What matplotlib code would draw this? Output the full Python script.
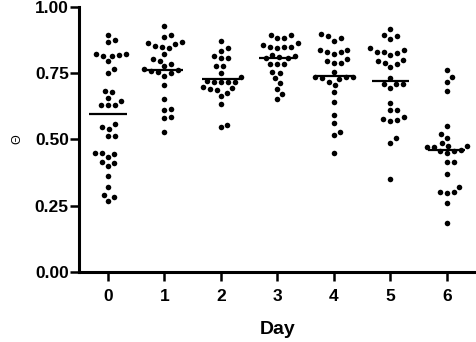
import numpy as np
import matplotlib
matplotlib.use("Agg")
import matplotlib.pyplot as plt

days = [0, 1, 2, 3, 4, 5, 6]

day0 = [0.894, 0.875, 0.867, 0.823, 0.815, 0.794, 0.815, 0.819, 0.823, 0.765, 0.750,
        0.677, 0.684, 0.643, 0.628, 0.628, 0.628, 0.655, 0.557, 0.545, 0.540, 0.514,
        0.514, 0.450, 0.435, 0.445, 0.450, 0.410, 0.400, 0.416, 0.360, 0.320, 0.291,
        0.269, 0.282]
day1 = [0.926, 0.894, 0.888, 0.869, 0.863, 0.860, 0.844, 0.853, 0.850, 0.823, 0.804,
        0.797, 0.784, 0.775, 0.765, 0.756, 0.752, 0.760, 0.758, 0.740, 0.706, 0.653,
        0.614, 0.609, 0.586, 0.580, 0.529]
day2 = [0.873, 0.844, 0.835, 0.813, 0.806, 0.806, 0.775, 0.775, 0.750, 0.735, 0.717,
        0.719, 0.717, 0.715, 0.717, 0.693, 0.687, 0.696, 0.674, 0.691, 0.664, 0.634,
        0.545, 0.555]
day3 = [0.894, 0.882, 0.882, 0.894, 0.862, 0.850, 0.850, 0.850, 0.845, 0.855, 0.820,
        0.815, 0.810, 0.806, 0.806, 0.784, 0.784, 0.784, 0.754, 0.750, 0.731, 0.712,
        0.689, 0.672, 0.653]
day4 = [0.891, 0.873, 0.882, 0.898, 0.838, 0.828, 0.822, 0.831, 0.838, 0.794, 0.788,
        0.790, 0.803, 0.756, 0.735, 0.728, 0.730, 0.735, 0.735, 0.706, 0.718, 0.680,
        0.640, 0.592, 0.561, 0.529, 0.517, 0.448]
day5 = [0.917, 0.894, 0.878, 0.891, 0.844, 0.831, 0.825, 0.819, 0.829, 0.838, 0.800,
        0.790, 0.772, 0.784, 0.796, 0.731, 0.709, 0.693, 0.708, 0.709, 0.637, 0.609,
        0.609, 0.577, 0.570, 0.574, 0.586, 0.505, 0.488, 0.350]
day6 = [0.762, 0.737, 0.718, 0.684, 0.552, 0.505, 0.521, 0.488, 0.470, 0.475, 0.470,
        0.474, 0.455, 0.449, 0.455, 0.458, 0.416, 0.416, 0.370, 0.303, 0.299, 0.303,
        0.320, 0.259, 0.186]
groups = [day0, day1, day2, day3, day4, day5, day6]
medians = [0.595, 0.762, 0.728, 0.808, 0.740, 0.720, 0.458]

yticks = [0.00, 0.25, 0.50, 0.75, 1.00]
ytick_labels = ["0.00", "0.25", "0.50", "0.75", "1.00"]

plt.rcParams['font.family'] = ['Liberation Sans', 'DejaVu Sans']

fig = plt.figure(figsize=(4.77, 3.42), dpi=100)
ax = fig.add_axes([0.166, 0.205, 0.830, 0.775])
ax.set_xlim(-0.51, 6.5)
ax.set_ylim(0, 1.0)

min_gap_px = 7.0


def swarm(x0, values):
    # simple beeswarm in pixel space
    pts = ax.transData.transform(np.column_stack([np.full(len(values), x0), values]))
    order = np.argsort(pts[:, 1])
    placed = []
    out = np.zeros_like(pts)
    for i in order:
        px, py = pts[i]
        step = 0.5
        for k in range(400):
            off = ((k + 1) // 2) * step * (1 if k % 2 else -1)
            ok = all((px + off - qx) ** 2 + (py - qy) ** 2 >= min_gap_px ** 2
                     for qx, qy in placed)
            if ok:
                break
        placed.append((px + off, py))
        out[i] = (px + off, py)
    return ax.transData.inverted().transform(out)


for d, vals in zip(days, groups):
    xy = swarm(d, vals)
    ax.scatter(xy[:, 0], xy[:, 1], s=16, color='black', linewidths=0, zorder=3)

ax.hlines(medians, np.array(days) - 0.33, np.array(days) + 0.33, color='black', lw=1.6, zorder=4)

for s in ['top', 'right']:
    ax.spines[s].set_visible(False)
for s in ['left', 'bottom']:
    ax.spines[s].set_linewidth(2.2)

ax.set_xticks(days)
ax.set_xticklabels([str(d) for d in days], fontweight='bold', fontsize=12.5)
ax.set_yticks(yticks)
ax.set_yticklabels(ytick_labels, fontweight='bold', fontsize=12.5)
ax.tick_params(axis='x', length=6.5, width=1.8, pad=6)
ax.tick_params(axis='y', length=6.5, width=1.8, pad=1)

ax.set_xlabel("Day", fontweight='bold', fontsize=14, labelpad=12)
ax.set_ylabel("Θ", fontsize=9, rotation=90, labelpad=8)

fig.savefig("out.png", dpi=100)
